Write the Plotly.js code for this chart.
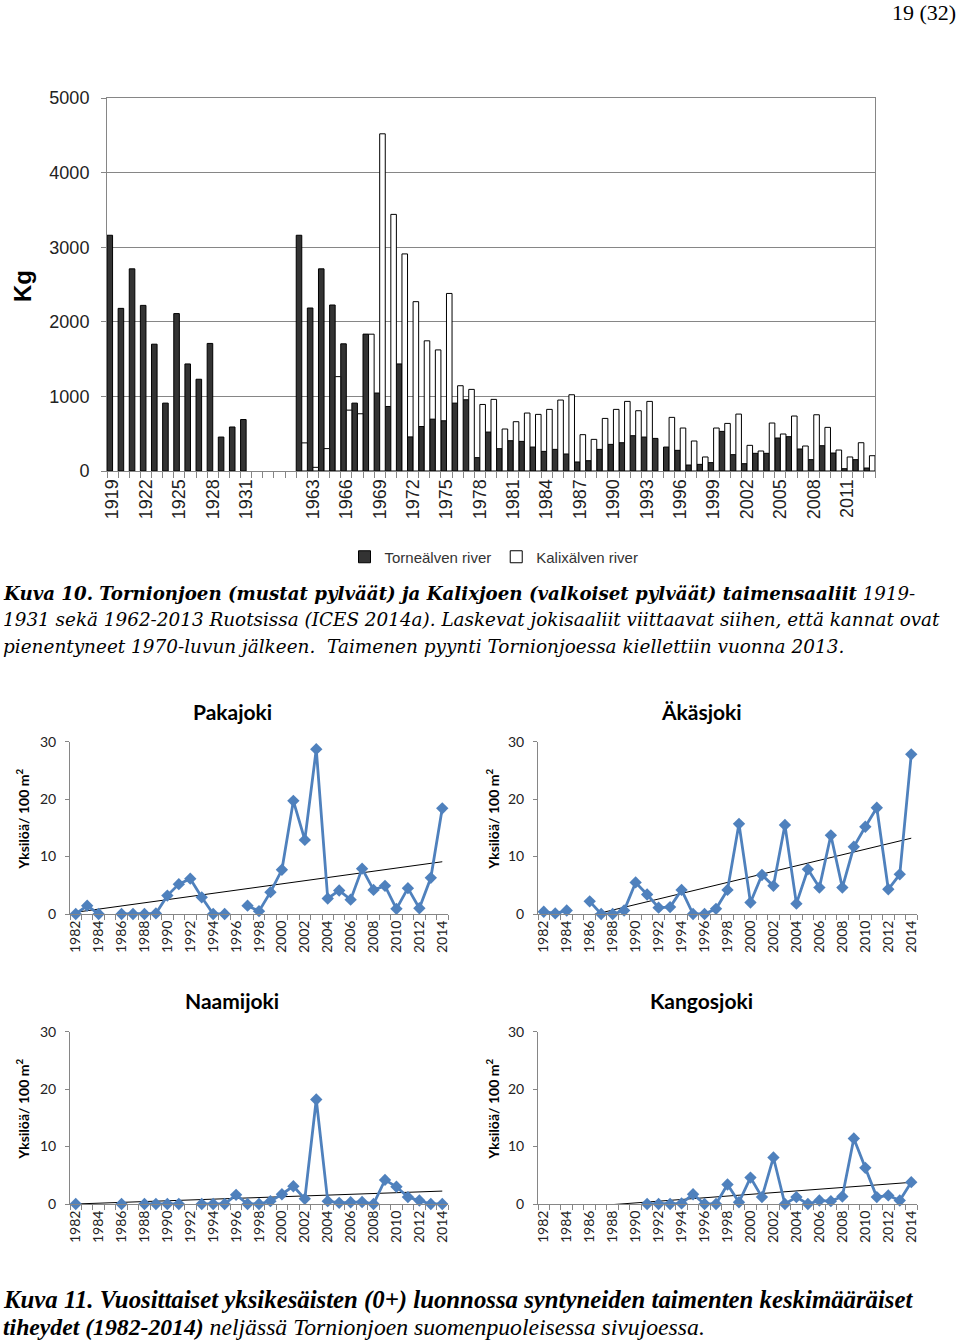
<!DOCTYPE html>
<html><head><meta charset="utf-8">
<script src="https://cdn.plot.ly/plotly-3.0.1.min.js"></script>
<style>html,body{margin:0;padding:0;background:#fff}#chart{width:960px;height:1342px}</style>
</head><body><div id="chart"></div>
<script>
// ---------- Data: top bar chart (kg) ----------
const barCategories = ['1919','1920','1921','1922','1923','1924','1925','1926','1927','1928','1929','1930','1931',
  '','','','',
  '1962','1963','1964','1965','1966','1967','1968','1969','1970','1971','1972','1973','1974','1975','1976','1977',
  '1978','1979','1980','1981','1982','1983','1984','1985','1986','1987','1988','1989','1990','1991','1992','1993',
  '1994','1995','1996','1997','1998','1999','2000','2001','2002','2003','2004','2005','2006','2007','2008','2009',
  '2010','2011','2012','2013'];
const torneValues = [3160,2180,2710,2220,1700,910,2110,1435,1230,1710,455,590,690,
  null,null,null,null,
  3160,2185,2710,2225,1705,910,1835,1045,865,1435,457,596,695,673,910,955,
  179,522,299,406,397,321,263,290,228,121,138,290,357,379,473,455,
  437,321,277,80,89,112,531,219,98,237,237,442,460,295,152,339,
  241,31,152,40];
const kalixValues = [null,null,null,null,null,null,null,null,null,null,null,null,null,
  null,null,null,null,
  377,49,300,1265,816,767,1834,4520,3440,2910,2270,1745,1623,2380,1143,1094,
  892,960,563,661,777,759,826,951,1022,487,424,705,826,933,808,933,
  null,719,576,402,188,576,638,763,344,268,643,496,737,335,754,585,
  281,188,379,205];
const barSeriesNames = ['Torneälven river','Kalixälven river'];

// ---------- Data: density charts (individuals / 100 m2) ----------
const years = [1982,1983,1984,1985,1986,1987,1988,1989,1990,1991,1992,1993,1994,1995,1996,1997,1998,
  1999,2000,2001,2002,2003,2004,2005,2006,2007,2008,2009,2010,2011,2012,2013,2014];
const pakajoki = [0,1.45,0,null,0,0,0,0.1,3.2,5.2,6.15,2.9,0,0,null,1.45,0.5,
  3.8,7.7,19.7,12.9,28.7,2.7,4.1,2.5,7.9,4.2,4.9,0.9,4.5,1.0,6.3,18.4];
const akasjoki = [0.4,0.1,0.6,null,2.2,0,0,0.6,5.5,3.4,1.1,1.2,4.2,0,0,0.9,4.2,
  15.7,2.0,6.8,4.9,15.5,1.8,7.8,4.6,13.7,4.6,11.7,15.2,18.5,4.3,6.9,27.8];
const naamijoki = [0,null,null,null,0,null,0,0,0,0,null,0,0,0,1.6,0,0,
  0.5,1.7,3.1,0.9,18.2,0.5,0.2,0.3,0.35,0,4.2,3.0,1.2,0.6,0,0];
const kangosjoki = [null,null,null,null,null,null,null,null,null,0,0,0,0.1,1.7,0,0,3.4,
  0.3,4.6,1.2,8.1,0,1.2,0,0.6,0.5,1.3,11.4,6.3,1.2,1.5,0.6,3.8];
// linear trend lines (end values)
const trendYears = [1982, 2014];
const pakajokiTrend = [0.3, 9.1];
const akasjokiTrend = [-2.2, 13.2];
const naamijokiTrend = [0.0, 2.25];
const kangosjokiTrend = [-1.0, 3.77];
const riverNames = ['Pakajoki','Äkäsjoki','Naamijoki','Kangosjoki'];

// ---------- Helpers ----------
const W = 960, H = 1342;
const px = x => x / W;
const py = y => 1 - y / H;
const ctx = document.createElement('canvas').getContext('2d');
function measure(parts, fam, size) {
  let w = 0;
  parts.forEach(p => {
    ctx.font = (p.i ? 'italic ' : '') + (p.b ? 'bold ' : '') + size + 'px "' + fam + '"';
    w += ctx.measureText(p.t).width;
  });
  return w;
}
function fit(parts, fam, target) { return 100 * target / measure(parts, fam, 100); }
function toHtml(parts) {
  return parts.map(p => { let s = p.t; if (p.b) s = '<b>' + s + '</b>'; if (p.i) s = '<i>' + s + '</i>'; return s; }).join('');
}

const AXC = '#868686';
const barX = barCategories.map((c, i) => i);
const barTickVals = barX.filter(i => i % 3 === 0 && barCategories[i] !== '');
const barTickText = barTickVals.map(i => barCategories[i]);

const traces = [
  {type:'bar', x: barX, y: torneValues, name: barSeriesNames[0], xaxis:'x', yaxis:'y',
   marker:{color:'#333333', line:{color:'#000', width:1}}},
  {type:'bar', x: barX, y: kalixValues, name: barSeriesNames[1], xaxis:'x', yaxis:'y',
   marker:{color:'#ffffff', line:{color:'#000', width:1}}}
];

const smallData = [pakajoki, akasjoki, naamijoki, kangosjoki];
const smallTrend = [pakajokiTrend, akasjokiTrend, naamijokiTrend, kangosjokiTrend];
smallData.forEach((d, k) => {
  const n = k + 2;
  traces.push({type:'scatter', mode:'lines', x: trendYears, y: smallTrend[k], xaxis:'x'+n, yaxis:'y'+n,
    line:{color:'#000', width:1}, showlegend:false, hoverinfo:'skip'});
  traces.push({type:'scatter', mode:'lines+markers', x: years, y: d, xaxis:'x'+n, yaxis:'y'+n,
    line:{color:'#4f81bd', width:2.8}, marker:{symbol:'diamond', size:9.5, color:'#4f81bd'},
    connectgaps:false, cliponaxis:false, showlegend:false});
});

const layout = {
  width: W, height: H, margin:{l:0,r:0,t:0,b:0}, paper_bgcolor:'#fff', plot_bgcolor:'rgba(0,0,0,0)',
  barmode:'group', bargap:0, bargroupgap:0,
  showlegend:true,
  legend:{orientation:'h', x:px(494), xanchor:'center', y:py(557), yanchor:'middle',
    font:{family:'Liberation Sans', size:15, color:'#333'}, itemwidth:30, traceorder:'normal'},
  xaxis:{domain:[px(107), px(875)], anchor:'y', range:[-0.5, 68.5], tickmode:'array',
    tickvals: barTickVals, ticktext: barTickText, tickangle:-90, ticks:'',
    tickfont:{family:'Liberation Sans', size:18, color:'#222'},
    showline:true, linecolor:AXC, linewidth:1, mirror:true, showgrid:false, zeroline:false,
    minor:{ticks:'outside', ticklen:6, tickcolor:AXC, tick0:-0.5, dtick:1, showgrid:false}},
  yaxis:{domain:[py(471), py(98)], anchor:'x', range:[0,5000], dtick:1000, tick0:0,
    ticks:'outside', ticklen:5, tickcolor:AXC, ticklabelstandoff:8,
    tickfont:{family:'Liberation Sans', size:18, color:'#222'},
    showline:true, linecolor:AXC, mirror:true, showgrid:true, gridcolor:AXC, gridwidth:1, zeroline:false},
  annotations: []
};

const boxes = [
  {x0:70, x1:448, y0:741.7, y1:914, tx:232, ty:711, yt:23},
  {x0:538, x1:917, y0:741.7, y1:914, tx:701, ty:711, yt:493},
  {x0:70, x1:448, y0:1031.7, y1:1204, tx:232, ty:1000, yt:23},
  {x0:538, x1:917, y0:1031.7, y1:1204, tx:701, ty:1000, yt:493}
];
const evenYears = years.filter(y => y % 2 === 0);
boxes.forEach((b, k) => {
  const n = k + 2;
  layout['xaxis'+n] = {domain:[px(b.x0), px(b.x1)], anchor:'y'+n, range:[1981.5, 2014.5],
    tickmode:'array', tickvals: evenYears, ticktext: evenYears.map(String), tickangle:-90, ticks:'',
    tickfont:{family:'Lato', size:14, color:'#222'}, showline:true, linecolor:AXC, linewidth:1,
    showgrid:false, zeroline:false,
    minor:{ticks:'outside', ticklen:5, tickcolor:AXC, tick0:1981.5, dtick:1, showgrid:false}};
  layout['yaxis'+n] = {domain:[py(b.y1), py(b.y0)], anchor:'x'+n, range:[0,30], tickmode:'array',
    tickvals:[0,10,20,30], ticks:'outside', ticklen:4, tickcolor:AXC, ticklabelstandoff:6,
    tickfont:{family:'Lato', size:14, color:'#222'}, showline:true, linecolor:AXC, linewidth:1,
    showgrid:false, zeroline:false};
  layout.annotations.push({xref:'paper', yref:'paper', x:px(b.tx), y:py(b.ty), xanchor:'center', yanchor:'middle',
    text:'<b>'+riverNames[k]+'</b>', showarrow:false, font:{family:'Lato', size:21, color:'#000'}});
  layout.annotations.push({xref:'paper', yref:'paper', x:px(b.yt), y:py((b.y0+b.y1)/2 - 8), xanchor:'center', yanchor:'middle',
    textangle:-90, text:'<b>Yksilöä/ 100 m<sup>2</sup></b>', showarrow:false, font:{family:'Lato', size:14, color:'#000'}});
});

// Kg axis title
layout.annotations.push({xref:'paper', yref:'paper', x:px(22), y:py(286), xanchor:'center', yanchor:'middle',
  textangle:-90, text:'<b>Kg</b>', showarrow:false, font:{family:'Liberation Sans', size:24, color:'#000'}});
// page number
layout.annotations.push({xref:'paper', yref:'paper', x:px(958), y:py(12), xanchor:'right', yanchor:'middle',
  text:'19 (32)', showarrow:false, font:{family:'Liberation Serif', size:22, color:'#000'}});

// captions
const cap10 = [
  {y:593, w:912, parts:[{t:'Kuva 10. Tornionjoen (mustat pylväät) ja Kalixjoen (valkoiset pylväät) taimensaaliit', b:true, i:true}, {t:' 1919-', i:true}]},
  {y:619, w:937, parts:[{t:'1931 sekä 1962-2013 Ruotsissa (ICES 2014a). Laskevat jokisaaliit viittaavat siihen, että kannat ovat', i:true}]},
  {y:646, w:842, parts:[{t:'pienentyneet 1970-luvun jälkeen.  Taimenen pyynti Tornionjoessa kiellettiin vuonna 2013.', i:true}]}
];
const cap11 = [
  {y:1300, w:909, parts:[{t:'Kuva 11. Vuosittaiset yksikesäisten (0+) luonnossa syntyneiden taimenten keskimääräiset', b:true, i:true}]},
  {y:1327, w:702, parts:[{t:'tiheydet (1982-2014)', b:true, i:true}, {t:' neljässä Tornionjoen suomenpuoleisessa sivujoessa.', i:true}]}
];
[[cap10, 'DejaVu Serif'], [cap11, 'Liberation Serif']].forEach(([lines, fam]) => {
  lines.forEach(L => {
    const size = fit(L.parts, fam, L.w);
    layout.annotations.push({xref:'paper', yref:'paper', x:px(2), y:py(L.y), xanchor:'left', yanchor:'middle',
      text: toHtml(L.parts), showarrow:false, align:'left', borderpad:0,
      font:{family:fam, size:size, color:'#000'}});
  });
});

Plotly.newPlot('chart', traces, layout, {staticPlot:true, displayModeBar:false});
</script>
</body></html>
